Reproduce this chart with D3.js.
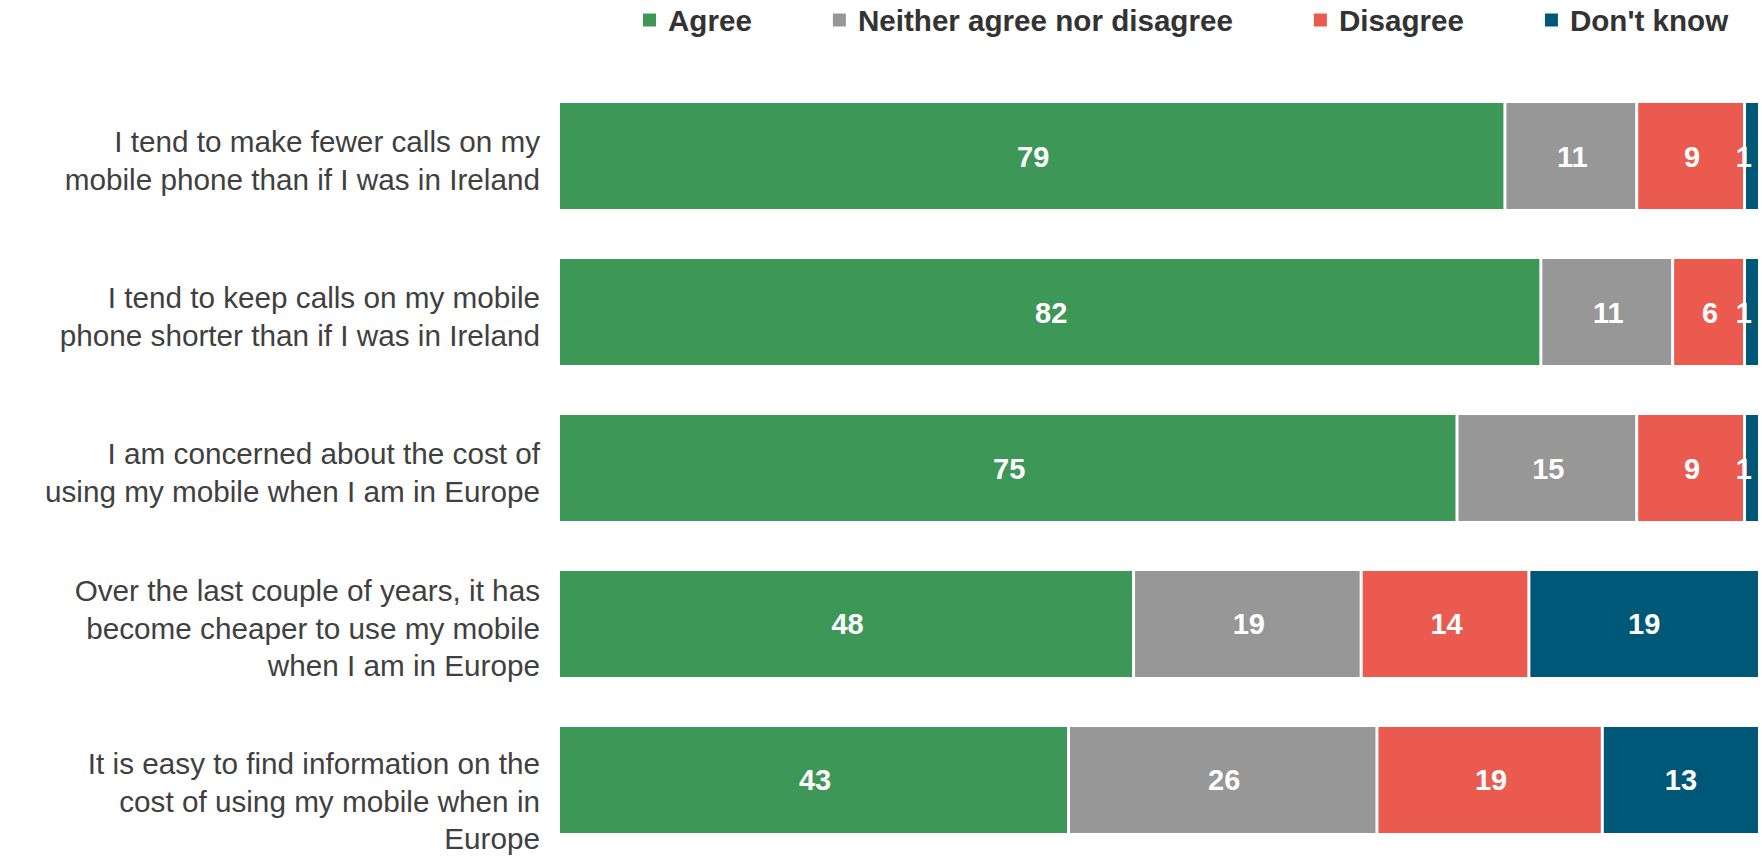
<!DOCTYPE html>
<html>
<head>
<meta charset="utf-8">
<script src="https://cdn.jsdelivr.net/npm/d3@7"></script>
<style>
  html, body { margin: 0; padding: 0; background: #ffffff; }
  svg { display: block; }
</style>
</head>
<body>
<svg id="chart" width="1762" height="856"></svg>
<script>
// Survey statements (one bar each), top to bottom
const statements = [
  ["I tend to make fewer calls on my", "mobile phone than if I was in Ireland"],
  ["I tend to keep calls on my mobile", "phone shorter than if I was in Ireland"],
  ["I am concerned about the cost of", "using my mobile when I am in Europe"],
  ["Over the last couple of years, it has", "become cheaper to use my mobile", "when I am in Europe"],
  ["It is easy to find information on the", "cost of using my mobile when in", "Europe"]
];

// Response categories
const responses = ["Agree", "Neither agree nor disagree", "Disagree", "Don't know"];
const responseColors = ["#3d9857", "#979797", "#eb5a4f", "#005878"];

// Percentages per response, in statement order
const agree      = [79, 82, 75, 48, 43];
const neither    = [11, 11, 15, 19, 26];
const disagree   = [9, 6, 9, 14, 19];
const dontKnow   = [1, 1, 1, 19, 13];

const rows = statements.map((s, i) => ({
  key: i,
  "Agree": agree[i],
  "Neither agree nor disagree": neither[i],
  "Disagree": disagree[i],
  "Don't know": dontKnow[i]
}));

const svg = d3.select("#chart");
const labelFont = "'Liberation Sans', Arial, Helvetica, sans-serif";

const plot = { left: 560, right: 1758, top: 103, bottom: 833 };

const x = d3.scaleLinear().domain([0, 1]).range([plot.left, plot.right]);
const y = d3.scaleBand()
  .domain(rows.map(r => r.key))
  .range([plot.top, plot.bottom])
  .paddingInner(0.3205)
  .paddingOuter(0);

const color = d3.scaleOrdinal().domain(responses).range(responseColors);

// 100% stacked layout: each row normalised to its own total
const stacked = d3.stack()
  .keys(responses)
  .offset(d3.stackOffsetExpand)(rows);

const gap = 1.5; // half of the white separator between segments

const layers = svg.append("g").selectAll("g.layer")
  .data(stacked)
  .join("g")
  .attr("class", "layer")
  .attr("fill", d => color(d.key));

layers.selectAll("rect")
  .data(d => d)
  .join("rect")
  .attr("x", d => x(d[0]) - gap)
  .attr("y", d => y(d.data.key) - gap)
  .attr("width", d => x(d[1]) - x(d[0]) + 2 * gap)
  .attr("height", y.bandwidth() + 2 * gap)
  .attr("stroke", "#ffffff")
  .attr("stroke-width", 2 * gap);

// Value labels inside the segments
const labels = svg.append("g")
  .attr("font-family", labelFont)
  .attr("font-weight", "bold")
  .attr("font-size", 29)
  .attr("fill", "#ffffff");

stacked.forEach(layer => {
  labels.selectAll(null)
    .data(layer)
    .join("text")
    .each(function(d) {
      const value = d.data[layer.key];
      const w = x(d[1]) - x(d[0]);
      const t = d3.select(this)
        .attr("y", y(d.data.key) + y.bandwidth() / 2 + 10.5)
        .text(value);
      if (w < 20) {
        // narrow segment: keep the label inside the plot edge
        t.attr("text-anchor", "end").attr("x", x(d[1]) - 6);
      } else {
        t.attr("text-anchor", "middle").attr("x", (x(d[0]) + x(d[1])) / 2);
      }
    });
});

// Category labels, right-aligned and wrapped over several lines
const lineHeight = 37.5;
const cats = svg.append("g")
  .attr("font-family", labelFont)
  .attr("font-size", 29.7)
  .attr("fill", "#404040")
  .attr("text-anchor", "end");

rows.forEach((r, i) => {
  const lines = statements[i];
  const cy = y(r.key) + y.bandwidth() / 2;
  // the last label block sits lower, running to the bottom edge
  const shift = i === rows.length - 1 ? 32 : 15;
  const t = cats.append("text");
  lines.forEach((ln, j) => {
    t.append("tspan")
      .attr("x", plot.left - 20)
      .attr("y", cy + (j - (lines.length - 1) / 2) * lineHeight + shift)
      .text(ln);
  });
});

// Legend across the top
const legend = svg.append("g")
  .attr("font-family", labelFont)
  .attr("font-weight", "bold")
  .attr("font-size", 29.6)
  .attr("fill", "#333333");

let lx = 643;
responses.forEach(key => {
  legend.append("rect")
    .attr("x", lx)
    .attr("y", 13.5)
    .attr("width", 13)
    .attr("height", 13)
    .attr("fill", color(key));
  const txt = legend.append("text")
    .attr("x", lx + 25)
    .attr("y", 31)
    .text(key);
  lx += 25 + txt.node().getComputedTextLength() + 81;
});
</script>
</body>
</html>
